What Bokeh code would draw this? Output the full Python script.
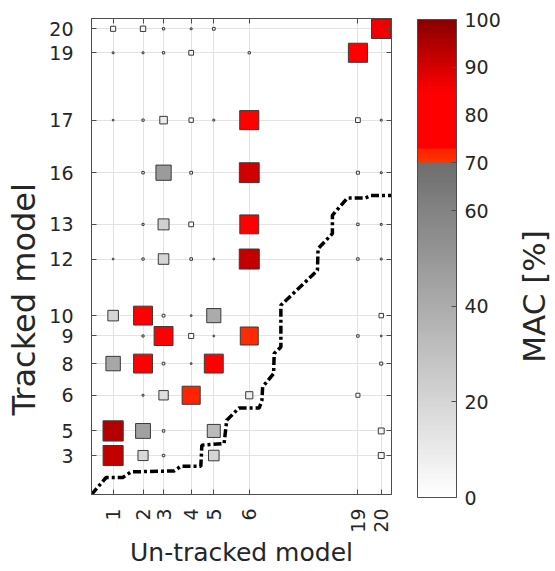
import numpy as np
from bokeh.plotting import figure
from bokeh.layouts import row
from bokeh.models import (Range1d, FixedTicker, LinearAxis, LinearColorMapper,
                          ColorBar, Label, Title, ColumnDataSource)
from bokeh.transform import transform
from bokeh.embed import file_html
from bokeh.resources import INLINE

# ---------------- data ----------------
untracked_modes = [1, 2, 3, 4, 5, 6, 19, 20]
untracked_pos = [21.7, 51.7, 72.3, 100.0, 122.7, 158.3, 267.3, 290.7]
tracked_modes = [3, 5, 6, 8, 9, 10, 12, 13, 16, 17, 19, 20]
tracked_pos = [39.0, 63.6, 99.3, 131.0, 158.6, 179.0, 235.6, 270.3, 322.0, 374.6, 442.0, 466.0]

mac_tracked = [20, 20, 20, 20, 20, 20,
               19, 19, 19, 19, 19, 19,
               17, 17, 17, 17, 17, 17, 17, 17,
               16, 16, 16, 16, 16, 16,
               13, 13, 13, 13, 13, 13,
               12, 12, 12, 12, 12, 12, 12, 12,
               10, 10, 10, 10, 10, 10,
               9, 9, 9, 9, 9, 9, 9,
               8, 8, 8, 8, 8, 8,
               6, 6, 6, 6, 6,
               5, 5, 5, 5, 5,
               3, 3, 3, 3, 3]
mac_untracked = [1, 2, 3, 4, 5, 20,
                 1, 2, 3, 4, 6, 19,
                 1, 2, 3, 4, 5, 6, 19, 20,
                 2, 3, 4, 6, 19, 20,
                 2, 3, 4, 6, 19, 20,
                 1, 2, 3, 4, 5, 6, 19, 20,
                 1, 2, 3, 4, 5, 20,
                 2, 3, 4, 5, 6, 19, 20,
                 1, 2, 3, 4, 5, 20,
                 2, 3, 4, 6, 19,
                 1, 2, 3, 5, 20,
                 1, 2, 3, 5, 20]
mac_value = [3.5, 4.0, 0.5, 0.3, 0.8, 86,
             0.3, 0.3, 0.5, 3.0, 0.5, 82,
             0.2, 0.5, 9.0, 2.5, 0.3, 82, 3.0, 0.3,
             0.6, 48, 0.8, 90, 1.0, 0.3,
             0.4, 22, 3.0, 80, 0.6, 0.3,
             0.2, 0.5, 20, 0.7, 0.2, 92, 0.6, 0.3,
             20, 80, 0.8, 0.2, 40, 2.5,
             0.4, 80, 3.5, 0.2, 71, 0.6, 0.2,
             42, 80, 0.7, 0.2, 80, 1.0,
             0.3, 15, 72, 8.0, 2.0,
             94, 45, 0.6, 33, 5.0,
             92, 18, 0.6, 20, 5.0]

path_x = [0.0, 14.7, 31.3, 39.7, 83.0, 89.7, 109.7, 110.7, 133.0, 135.7, 148.0,
          168.3, 171.0, 171.7, 182.7, 183.3, 190.0, 190.0, 226.7, 227.3, 241.7,
          241.7, 256.7, 275.0, 280.0, 301.0]
path_y = [0.0, 17.0, 17.0, 22.6, 23.6, 28.3, 28.3, 49.3, 51.0, 74.3, 86.6,
          86.6, 94.3, 107.6, 121.0, 141.0, 147.6, 189.3, 224.3, 246.0, 261.0,
          279.3, 296.6, 296.6, 299.3, 299.3]

cbar_ticks = [0, 20, 40, 60, 70, 80, 90, 100]

# ---------------- colour map ----------------
palette = []
for i in range(100):
    if i < 70:
        v = int(round(255 - 145 * (i + 0.5) / 70))
        palette.append("#%02x%02x%02x" % (v, v, v))
    elif i < 73:
        g = int(round(0x33 - (i - 70) * 8))
        palette.append("#ff%02x00" % g)
    elif i < 85:
        palette.append("#ff0000")
    else:
        r = int(round(255 - 115 * (i - 84) / 15))
        palette.append("#%02x0000" % r)
mapper = LinearColorMapper(palette=palette, low=0, high=100)

xpos = dict(zip(untracked_modes, untracked_pos))
ypos = dict(zip(tracked_modes, tracked_pos))
src = ColumnDataSource(dict(
    x=[xpos[m] for m in mac_untracked],
    y=[ypos[m] for m in mac_tracked],
    mac=mac_value,
    size=[3.0 * v ** 0.42 for v in mac_value],
))

FONT = "DejaVu Sans"
TXT = "#262626"
EDGE = "#4d4d4d"
TOP, BOTTOM = 18, 77

p = figure(width=400, height=571, output_backend="svg", toolbar_location=None,
           x_range=Range1d(0, 301), y_range=Range1d(0, 476.3),
           min_border_left=90, min_border_right=9, min_border_top=TOP,
           min_border_bottom=BOTTOM)
p.outline_line_color = EDGE
p.outline_line_width = 1
p.background_fill_color = "white"

xt = FixedTicker(ticks=untracked_pos)
yt = FixedTicker(ticks=tracked_pos)

for ax in p.xaxis:
    ax.ticker = xt
    ax.major_label_overrides = {pv: str(m) for pv, m in zip(untracked_pos, untracked_modes)}
    ax.major_label_orientation = np.pi / 2
    ax.major_label_standoff = 14
    ax.axis_label = "Un-tracked model"
    ax.axis_label_standoff = 2
    ax.axis_label_text_font = FONT
    ax.axis_label_text_font_size = "25px"
    ax.axis_label_text_font_style = "normal"
    ax.axis_label_text_color = TXT
for ax in p.yaxis:
    ax.ticker = yt
    ax.major_label_overrides = {pv: str(m) for pv, m in zip(tracked_pos, tracked_modes)}
    ax.major_label_standoff = 18
for ax in p.xaxis + p.yaxis:
    ax.major_tick_in = 5
    ax.major_tick_out = 0
    ax.minor_tick_line_color = None
    ax.axis_line_color = EDGE
    ax.major_tick_line_color = EDGE
    ax.major_label_text_font = FONT
    ax.major_label_text_font_size = "19px"
    ax.major_label_text_color = TXT

# mirrored tick marks on the top and right edges (no labels)
top_ax = LinearAxis(ticker=FixedTicker(ticks=[], minor_ticks=untracked_pos),
                    minor_tick_in=5, minor_tick_out=0, minor_tick_line_color=EDGE,
                    major_tick_line_color=None, axis_line_color=EDGE)
right_ax = LinearAxis(ticker=FixedTicker(ticks=[], minor_ticks=tracked_pos),
                      minor_tick_in=5, minor_tick_out=0, minor_tick_line_color=EDGE,
                      major_tick_line_color=None, axis_line_color=EDGE)
p.add_layout(top_ax, "above")
p.add_layout(right_ax, "right")

p.add_layout(Title(text="Tracked model", align="left", offset=79, vertical_align="middle",
                   text_font=FONT, text_font_size="32px", text_font_style="normal",
                   text_color=TXT, standoff=6), "left")

p.xgrid.ticker = xt
p.ygrid.ticker = yt
p.xgrid.grid_line_color = "#e3e3e3"
p.ygrid.grid_line_color = "#e3e3e3"

p.line(path_x, path_y, line_width=3.5, line_color="black", line_dash="8 3 3 3")
p.scatter("x", "y", source=src, marker="square", size="size",
          fill_color=transform("mac", mapper), line_color="#3a3a3a", line_width=1)

# ---------------- colour bar panel ----------------
p2 = figure(width=155, height=571, output_backend="svg", toolbar_location=None,
            x_range=Range1d(0, 155), y_range=Range1d(0, 476),
            x_axis_type=None, y_axis_type=None,
            min_border_left=0, min_border_right=0, min_border_top=TOP,
            min_border_bottom=BOTTOM)
p2.outline_line_color = None
p2.xgrid.visible = False
p2.ygrid.visible = False

cb = ColorBar(color_mapper=mapper, ticker=FixedTicker(ticks=cbar_ticks), width=39, height=478,
              location=(17, -3), padding=0, margin=0, label_standoff=8,
              major_tick_in=5, major_tick_out=0, major_tick_line_color=EDGE,
              major_label_text_font=FONT, major_label_text_font_size="19px",
              major_label_text_color=TXT, bar_line_color=EDGE, bar_line_width=1,
              background_fill_color=None, border_line_color=None)
p2.add_layout(cb, "center")
p2.add_layout(Label(x=133, y=198, x_units="screen", y_units="screen", text="MAC [%]",
                    angle=np.pi / 2, text_font=FONT, text_font_size="31px", text_color=TXT,
                    text_align="center", text_baseline="middle"))

layout = row(p, p2, spacing=0)
open("out.html", "w").write(file_html(layout, INLINE))
